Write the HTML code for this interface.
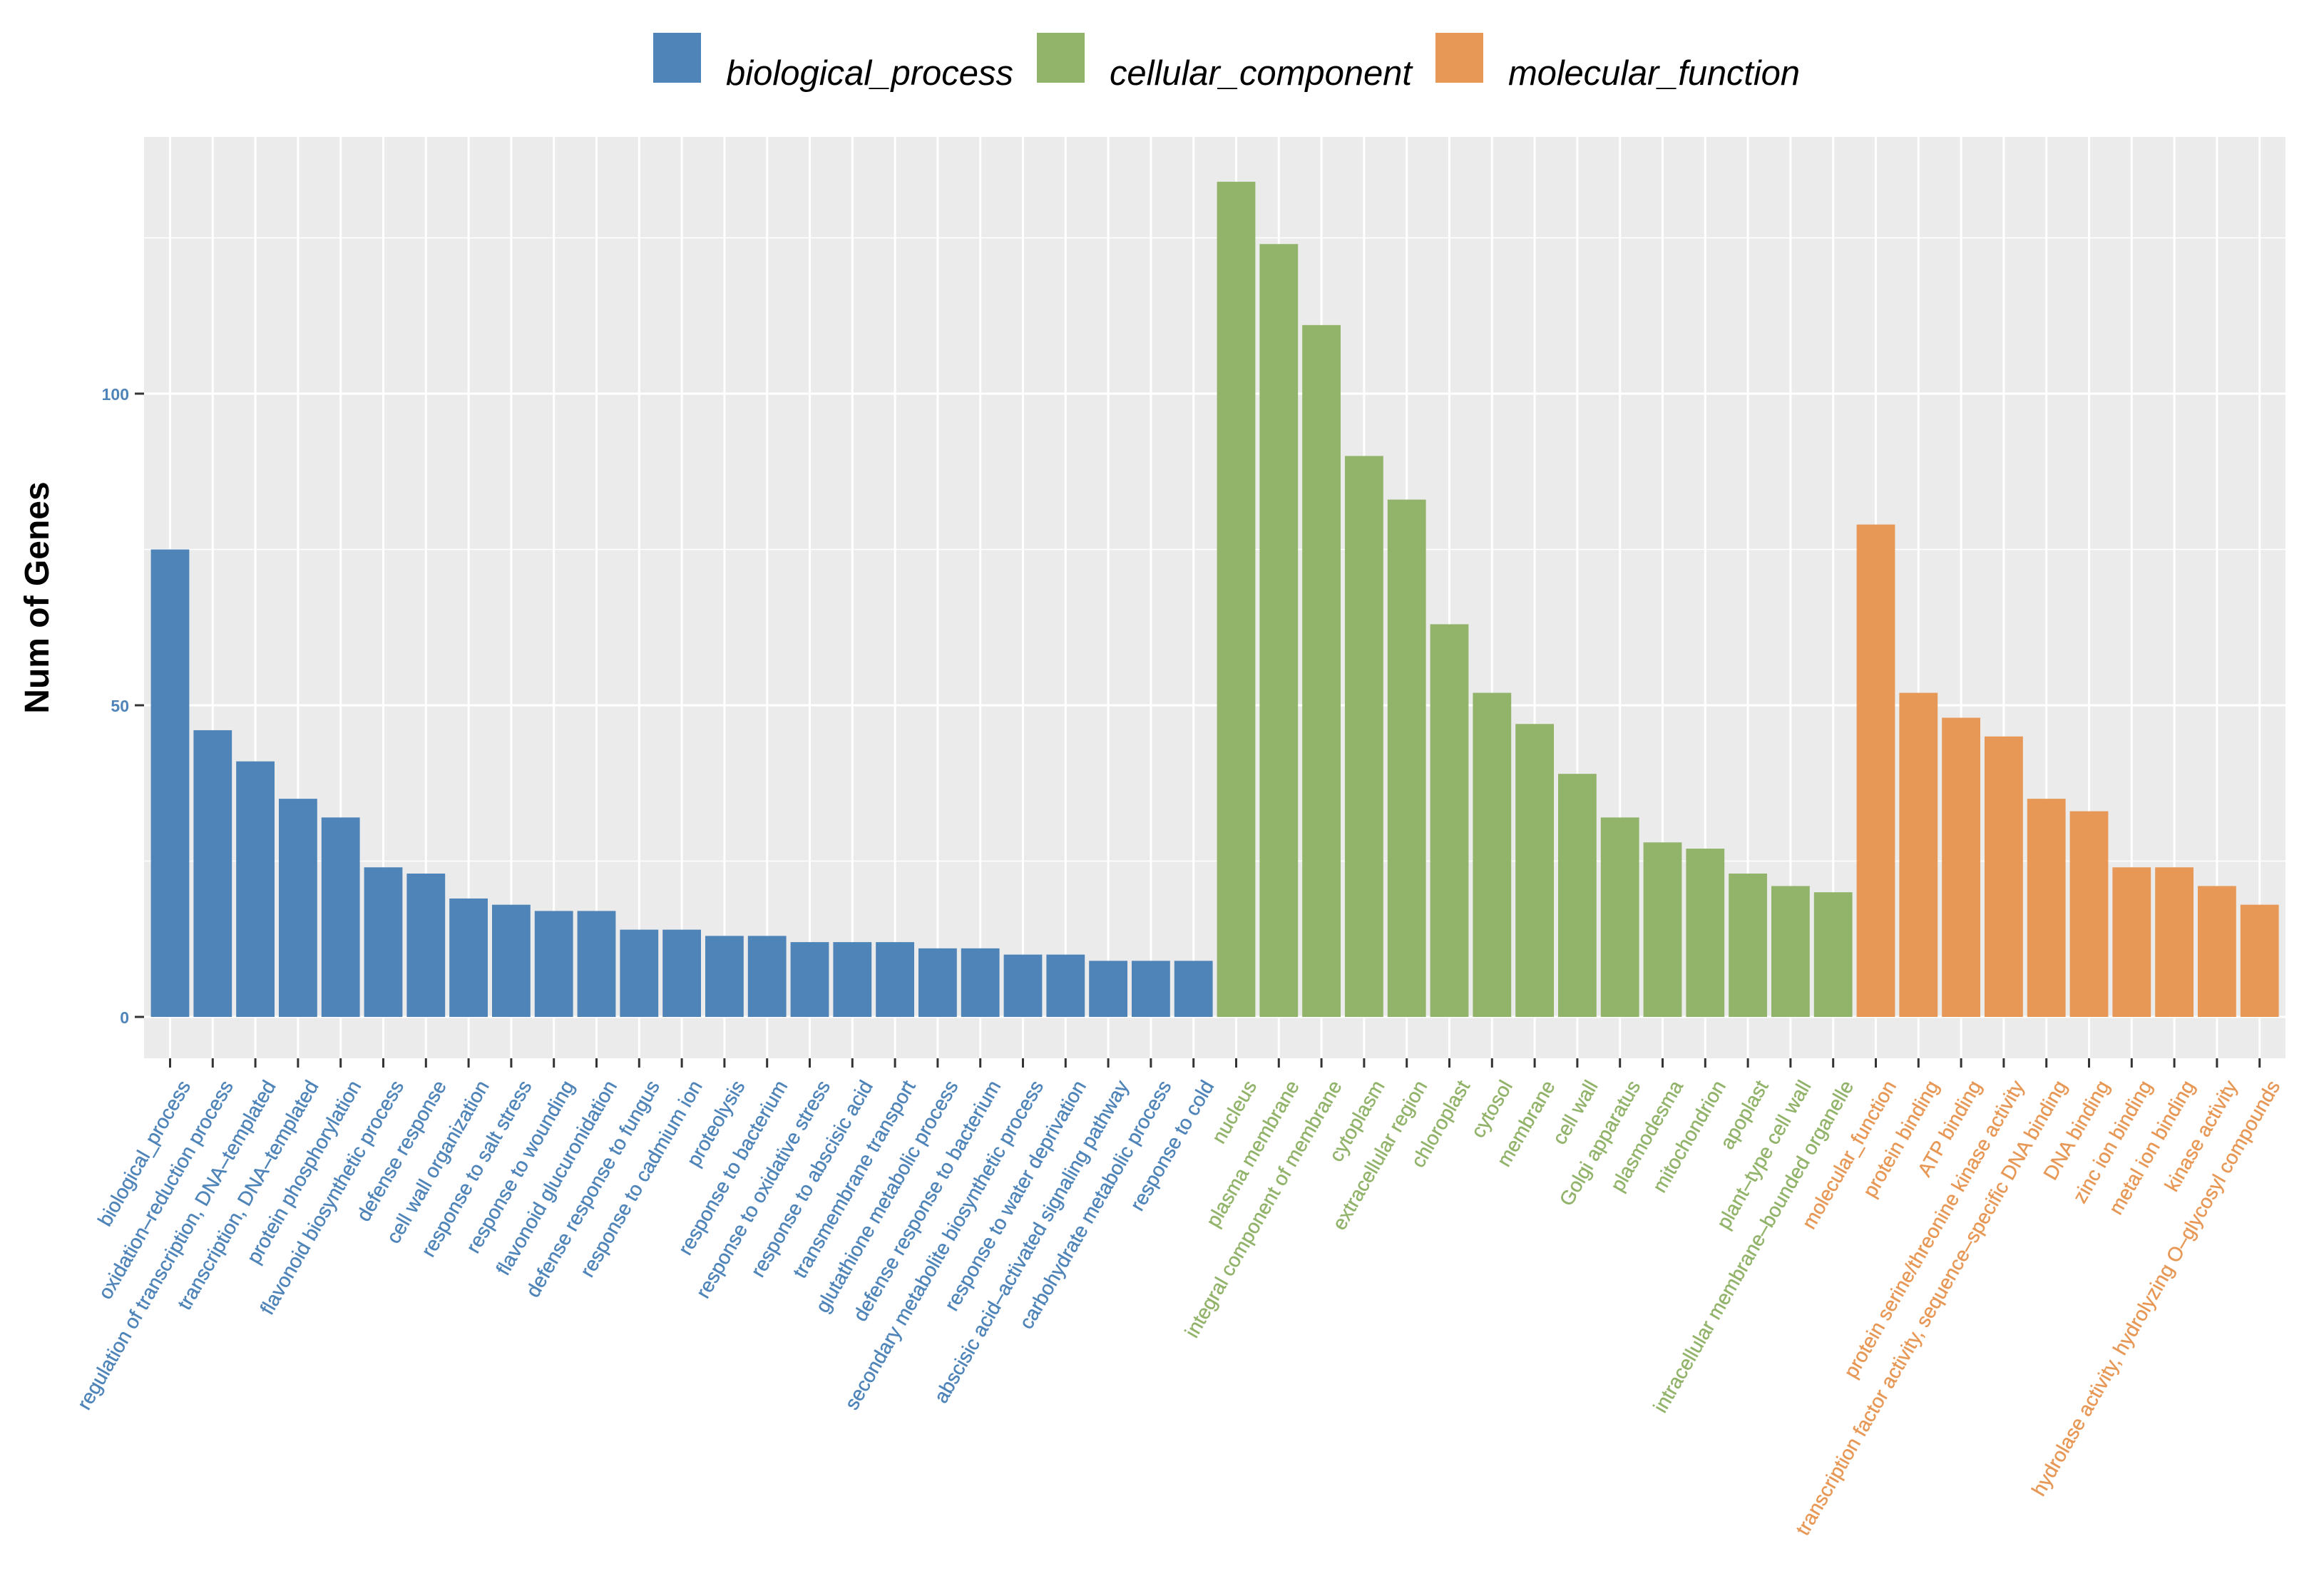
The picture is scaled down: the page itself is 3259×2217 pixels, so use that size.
<!DOCTYPE html>
<html><head><meta charset="utf-8"><style>
html,body{margin:0;padding:0;background:#fff;}
svg{display:block;font-family:"Liberation Sans",Arial,sans-serif;}
</style></head><body>
<svg id="chart" width="3259" height="2217" viewBox="0 0 3259 2217" xmlns="http://www.w3.org/2000/svg">
<rect x="0" y="0" width="3259" height="2217" fill="#fff"/>
<g>
  <rect x="916" y="46" width="67" height="70" fill="#4f84b8"/>
  <text x="1018" y="119" font-size="49" font-style="italic" fill="#000" textLength="403">biological_process</text>
  <rect x="1454" y="46" width="67" height="70" fill="#92b36a"/>
  <text x="1556" y="119" font-size="49" font-style="italic" fill="#000" textLength="424">cellular_component</text>
  <rect x="2013" y="46" width="67" height="70" fill="#e79856"/>
  <text x="2115" y="119" font-size="49" font-style="italic" fill="#000" textLength="409">molecular_function</text>
</g>
<rect x="202" y="192" width="3003" height="1292" fill="#ebebeb"/>
<g id="grid"></g>
<g id="bars"></g>
<g id="axes"></g>
<text transform="translate(68,838) rotate(-90)" text-anchor="middle" font-size="48" font-weight="bold" fill="#000">Num of Genes</text>
</svg>
<script>
const bpCategories = ["biological_process","oxidation\u2013reduction process","regulation of transcription, DNA\u2013templated","transcription, DNA\u2013templated","protein phosphorylation","flavonoid biosynthetic process","defense response","cell wall organization","response to salt stress","response to wounding","flavonoid glucuronidation","defense response to fungus","response to cadmium ion","proteolysis","response to bacterium","response to oxidative stress","response to abscisic acid","transmembrane transport","glutathione metabolic process","defense response to bacterium","secondary metabolite biosynthetic process","response to water deprivation","abscisic acid\u2013activated signaling pathway","carbohydrate metabolic process","response to cold"];
const bpValues = [75,46,41,35,32,24,23,19,18,17,17,14,14,13,13,12,12,12,11,11,10,10,9,9,9];
const ccCategories = ["nucleus","plasma membrane","integral component of membrane","cytoplasm","extracellular region","chloroplast","cytosol","membrane","cell wall","Golgi apparatus","plasmodesma","mitochondrion","apoplast","plant\u2013type cell wall","intracellular membrane\u2013bounded organelle"];
const ccValues = [134,124,111,90,83,63,52,47,39,32,28,27,23,21,20];
const mfCategories = ["molecular_function","protein binding","ATP binding","protein serine/threonine kinase activity","transcription factor activity, sequence\u2013specific DNA binding","DNA binding","zinc ion binding","metal ion binding","kinase activity","hydrolase activity, hydrolyzing O\u2013glycosyl compounds"];
const mfValues = [79,52,48,45,35,33,24,24,21,18];
const yTicks = [0,50,100];
const yMinor = [25,75,125];

const NS = "http://www.w3.org/2000/svg";
const panelL = 202, panelR = 3205, panelT = 192, panelB = 1484;
const step = 59.8, firstX = 238.5;
const y0 = 1426, perUnit = 8.74;
function xPos(i){ return firstX + i*step; }
function yPos(v){ return y0 - v*perUnit; }
function mk(tag, attrs, parent){ const e=document.createElementNS(NS,tag); for(const k in attrs) e.setAttribute(k,attrs[k]); parent.appendChild(e); return e; }

const groups = [
  {cats:bpCategories, vals:bpValues, color:"#4f84b8", name:"biological-process"},
  {cats:ccCategories, vals:ccValues, color:"#92b36a", name:"cellular-component"},
  {cats:mfCategories, vals:mfValues, color:"#e79856", name:"molecular-function"}
];
const grid = document.getElementById("grid");
const bars = document.getElementById("bars");
const axes = document.getElementById("axes");

yMinor.forEach(v=>{
  const l = mk("line",{x1:panelL,x2:panelR,y1:yPos(v),y2:yPos(v),stroke:"#fff","stroke-width":1.6},grid);
  
  
});
yTicks.forEach(v=>{
  const l = mk("line",{x1:panelL,x2:panelR,y1:yPos(v),y2:yPos(v),stroke:"#fff","stroke-width":3},grid);
  
  
  const t = mk("line",{x1:189,x2:202,y1:yPos(v),y2:yPos(v),stroke:"#333","stroke-width":3},axes);
  
  
  const tx = mk("text",{x:181,y:yPos(v)+9,"text-anchor":"end","font-size":23,"font-weight":"bold",fill:"#4f84b8"},axes);
  tx.textContent = v;
  
  
});

let idx = 0;
groups.forEach(g=>{
  g.cats.forEach((c,j)=>{
    const x = xPos(idx);
    const gl = mk("line",{x1:x,x2:x,y1:panelT,y2:panelB,stroke:"#fff","stroke-width":3},grid);
    
    
    const v = g.vals[j];
    const r = mk("rect",{x:x-26.9,y:yPos(v),width:53.8,height:y0-yPos(v),fill:g.color},bars);
    
    
    const t = mk("line",{x1:x,x2:x,y1:panelB,y2:panelB+13,stroke:"#333","stroke-width":3},axes);
    
    
    const lab = mk("text",{transform:"translate("+(x+12)+",1512) rotate(-60)","text-anchor":"end","font-size":28,fill:g.color,stroke:g.color,"stroke-width":0.4,dy:"0.72em"},axes);
    lab.textContent = c;
    
    
    idx++;
  });
});
</script>
</body></html>
